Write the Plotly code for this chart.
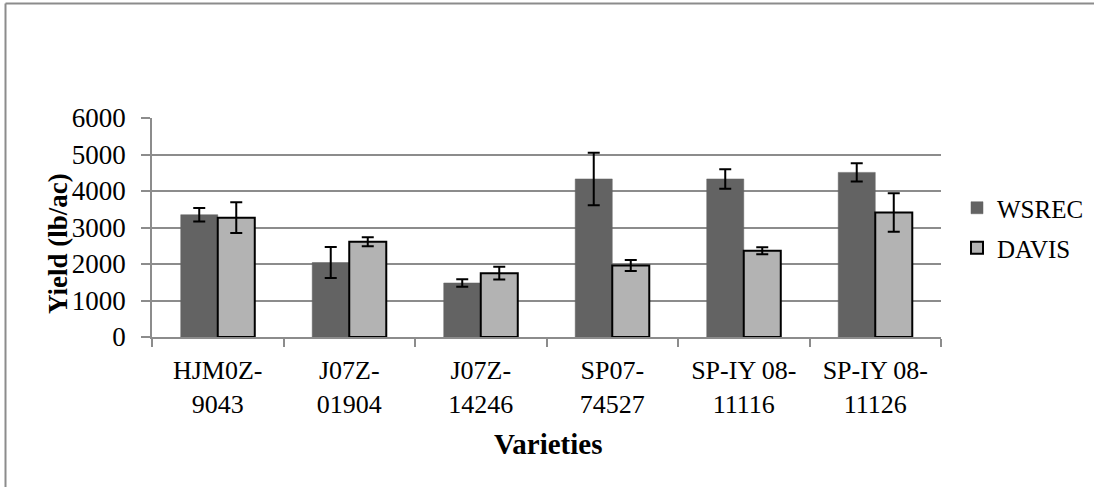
import plotly.graph_objects as go

categories = ["HJM0Z-<br>9043", "J07Z-<br>01904", "J07Z-<br>14246", "SP07-<br>74527", "SP-IY 08-<br>11116", "SP-IY 08-<br>11126"]
wsrec = [3350, 2040, 1480, 4330, 4330, 4510]
wsrec_err = [185, 425, 105, 720, 265, 250]
davis = [3270, 2610, 1750, 1960, 2365, 3410]
davis_err = [420, 125, 173, 150, 95, 525]
y_ticks = [0, 1000, 2000, 3000, 4000, 5000, 6000]

FONT = "Liberation Serif"
W, H = 1094, 487
L, R, T, B = 152, 153, 118, 150
pw, ph = W - L - R, H - T - B

def px(x):
    return (x - L) / pw

def py(y):
    return (H - B - y) / ph

fig = go.Figure()
fig.add_trace(go.Bar(
    x=categories, y=wsrec, name="WSREC", legend="legend",
    marker=dict(color="#636363", line=dict(color="#636363", width=0.5)),
    error_y=dict(type="data", array=wsrec_err, color="black", thickness=2, width=6),
))
fig.add_trace(go.Bar(
    x=categories, y=davis, name="DAVIS", legend="legend2",
    marker=dict(color="#b3b3b3", line=dict(color="black", width=2)),
    error_y=dict(type="data", array=davis_err, color="black", thickness=2, width=6),
))

fig.update_layout(
    width=W, height=H,
    margin=dict(l=L, r=R, t=T, b=B, pad=0, autoexpand=False),
    paper_bgcolor="white", plot_bgcolor="white",
    barmode="group", bargap=0.437, bargroupgap=0,
    font=dict(family=FONT, color="black", size=24),
    showlegend=True,
    legend=dict(x=px(957), y=py(208), xanchor="left", yanchor="middle",
                font=dict(family=FONT, size=25, color="black"), bgcolor="rgba(0,0,0,0)"),
    legend2=dict(x=px(957), y=py(248), xanchor="left", yanchor="middle",
                 font=dict(family=FONT, size=25, color="black"), bgcolor="rgba(0,0,0,0)"),
)
fig.update_yaxes(
    range=[0, 6000], tickvals=y_ticks, showgrid=True, gridcolor="#8c8c8c", gridwidth=1.5,
    showline=True, linecolor="#8c8c8c", linewidth=1.5,
    ticks="outside", ticklen=9, tickcolor="#8c8c8c", tickwidth=1.5,
    tickfont=dict(family=FONT, size=27), ticklabelstandoff=10, zeroline=False,
)
fig.update_xaxes(
    type="category", tickson="boundaries", ticks="outside", ticklen=8,
    tickcolor="#8c8c8c", tickwidth=1.5,
    showline=True, linecolor="#8c8c8c", linewidth=1.5,
    tickfont=dict(family=FONT, size=26), ticklabelstandoff=9,
)

fig.add_annotation(text="<b>Yield (lb/ac)</b>", textangle=-90, xref="paper", yref="paper",
                   x=px(58), y=py(244), xanchor="center", yanchor="middle", showarrow=False,
                   font=dict(family=FONT, size=27))
fig.add_annotation(text="<b>Varieties</b>", xref="paper", yref="paper",
                   x=px(548), y=py(444), xanchor="center", yanchor="middle", showarrow=False,
                   font=dict(family=FONT, size=29))

# outer chart frame (left and top edges visible)
fig.add_shape(type="line", xref="paper", yref="paper", x0=px(5.5), x1=px(5.5), y0=py(3.5), y1=py(487),
              line=dict(color="#8c8c8c", width=2))
fig.add_shape(type="line", xref="paper", yref="paper", x0=px(5.5), x1=px(1094), y0=py(3.5), y1=py(3.5),
              line=dict(color="#8c8c8c", width=2))

fig.write_html("out.html", config={"displayModeBar": False},
               post_script="document.body.style.margin='0';document.body.style.overflow='hidden';")
